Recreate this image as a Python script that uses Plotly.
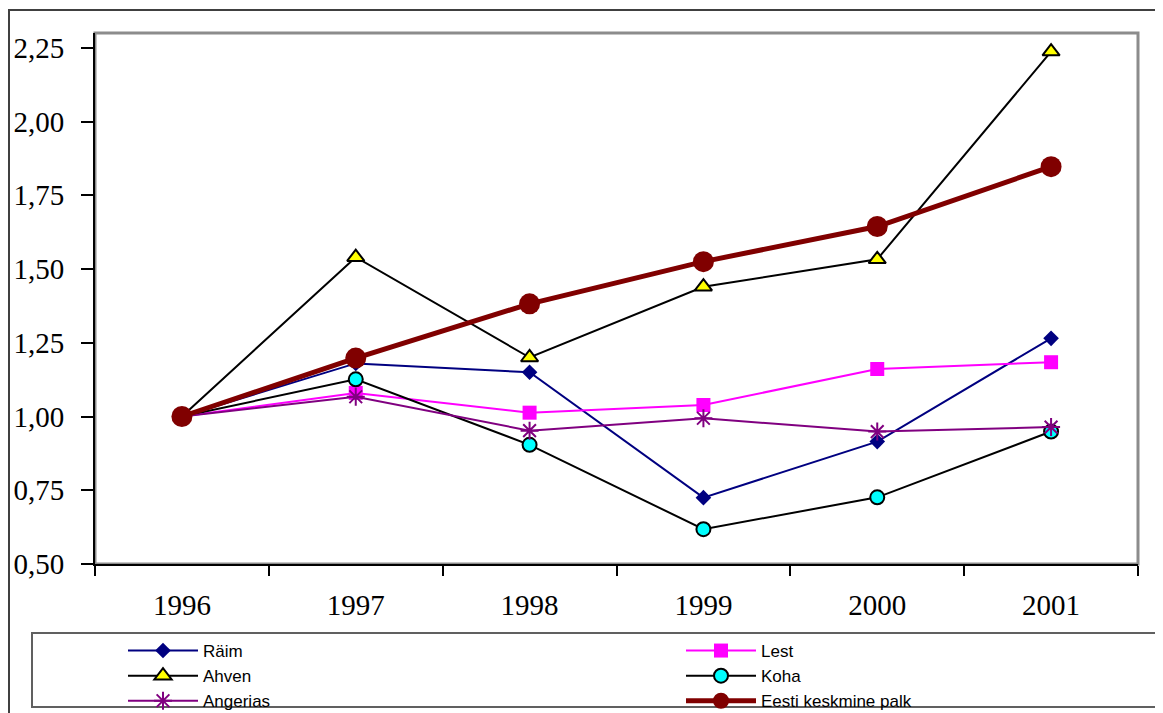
"""
Kalahindade indeks võrreldes Eesti keskmise palgaga (1996 = 1,00).
"""
import plotly.graph_objects as go

# andmed
YEARS = ["1996", "1997", "1998", "1999", "2000", "2001"]

RAIM = [1.00, 1.18, 1.15, 0.725, 0.915, 1.265]
LEST = [1.00, 1.08, 1.013, 1.039, 1.161, 1.184]
AHVEN = [1.00, 1.54, 1.20, 1.44, 1.533, 2.237]
KOHA = [1.00, 1.126, 0.904, 0.618, 0.726, 0.949]
ANGERIAS = [1.00, 1.067, 0.952, 0.994, 0.949, 0.964]
PALK = [1.00, 1.198, 1.382, 1.525, 1.644, 1.847]

Y_TICKS = [0.50, 0.75, 1.00, 1.25, 1.50, 1.75, 2.00, 2.25]

W, H = 1163, 713
OFF = 8  # body margin of the html page
# plot area in page pixels
L, R, T, B = 95, 1138, 33, 564


def px_x(p):
    # page pixel -> paper x
    return (p - L) / (R - L)


def px_y(p):
    # page pixel -> paper y
    return (B - p) / (B - T)


SERIES = [
    # nimi, väärtused, joone värv, joone laius, marker, legend
    ("Räim", RAIM, "#000080", 2,
     dict(symbol="diamond", size=12, color="#000080"), "legend"),
    ("Lest", LEST, "#FF00FF", 2,
     dict(symbol="square", size=14, color="#FF00FF"), "legend2"),
    ("Ahven", AHVEN, "#000000", 2,
     dict(symbol="triangle-up", size=15, color="#FFFF00",
          line=dict(color="#000000", width=2)), "legend"),
    ("Koha", KOHA, "#000000", 2,
     dict(symbol="circle", size=14, color="#00FFFF",
          line=dict(color="#000000", width=2)), "legend2"),
    ("Angerias", ANGERIAS, "#800080", 2,
     dict(symbol="asterisk-open", size=15, color="#800080",
          line=dict(color="#800080", width=2)), "legend"),
    ("Eesti keskmine palk", PALK, "#800000", 5,
     dict(symbol="circle", size=21, color="#800000"), "legend2"),
]

fig = go.Figure()

for name, vals, col, lw, marker, leg in SERIES:
    fig.add_trace(go.Scatter(
        x=YEARS, y=vals,
        mode="lines+markers",
        name=name,
        line=dict(color=col, width=lw),
        marker=marker,
        legend=leg,
    ))

# plot area frame (top / right grey)
fig.add_shape(type="rect", xref="paper", yref="paper",
              x0=0, x1=1, y0=0, y1=1,
              line=dict(color="#8C8C8C", width=3), layer="below")

# chart area frame
fig.add_shape(type="rect", xref="paper", yref="paper",
              x0=px_x(9), x1=px_x(1190), y0=px_y(770), y1=px_y(10),
              line=dict(color="#404040", width=2), layer="below")

# legend box
fig.add_shape(type="rect", xref="paper", yref="paper",
              x0=px_x(32), x1=px_x(1160), y0=px_y(707), y1=px_y(633),
              line=dict(color="#606060", width=2), layer="below")

serif = "Liberation Serif, Times New Roman, serif"
sans = "Liberation Sans, Arial, sans-serif"
legend_common = dict(
    orientation="v",
    bgcolor="rgba(0,0,0,0)",
    borderwidth=0,
    font=dict(family=sans, size=17, color="#000000"),
    itemwidth=70,
    yanchor="top",
    xanchor="left",
)

fig.update_layout(
    width=W, height=H,
    margin=dict(l=L - OFF, r=W - (R - OFF), t=T - OFF, b=H - (B - OFF),
                pad=0, autoexpand=False),
    paper_bgcolor="white",
    plot_bgcolor="white",
    separators=", ",
    showlegend=True,
    legend=dict(x=px_x(123), y=px_y(633), **legend_common),
    legend2=dict(x=px_x(681), y=px_y(633), **legend_common),
    xaxis=dict(
        type="category",
        range=[-0.5, 5.5],
        tickson="boundaries",
        ticks="outside", ticklen=10, tickwidth=1.5, tickcolor="#000000",
        showline=True, linecolor="#000000", linewidth=2,
        showgrid=False, zeroline=False,
        tickfont=dict(family=serif, size=29, color="#000000"),
        ticklabelstandoff=14,
    ),
    yaxis=dict(
        range=[0.5, 2.3],
        tickvals=Y_TICKS,
        tickformat=".2f",
        ticks="outside", ticklen=12, tickwidth=1.5, tickcolor="#000000",
        showline=True, linecolor="#000000", linewidth=2,
        showgrid=False, zeroline=False,
        tickfont=dict(family=serif, size=29, color="#000000"),
        ticklabelstandoff=11,
    ),
)

fig.write_html("out.html")
